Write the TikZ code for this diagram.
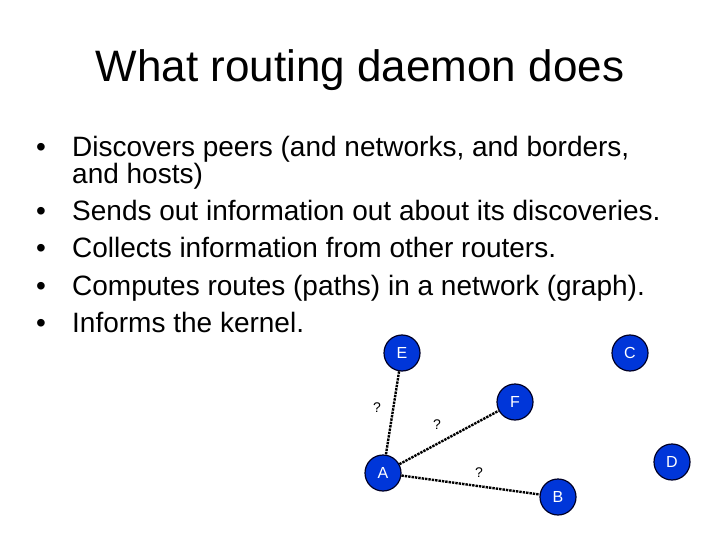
\documentclass[tikz,border=0pt]{standalone}
\usepackage{fontspec}
\setmainfont{Liberation Sans}
\begin{document}
\begin{tikzpicture}[x=1pt,y=-1pt,
  vtx/.style={circle,draw=black!85!blue,line width=1.2pt,fill=blue!75!cyan!85!black,minimum size=36pt,inner sep=0pt,text=white,font=\fontsize{16}{16}\selectfont},
  q/.style={font=\fontsize{14}{14}\selectfont},
  lnk/.style={densely dotted,line width=2.4pt},
  bl/.style={anchor=base west,inner sep=0pt,font=\fontsize{28}{28}\selectfont}]
\useasboundingbox (0,0) rectangle (720,540);
\node[font=\fontsize{44}{44}\selectfont] (title) at (360,70) {What routing daemon does};
\foreach \y/\t [count=\i] in {157/{Discovers peers (and networks, and borders,},221/{Sends out information out about its discoveries.},258/{Collects information from other routers.},295/{Computes routes (paths) in a network (graph).},332/{Informs the kernel.}}{
  \node[bl] (b\i) at (72,\y) {\t};
}
\foreach \y in {157,221,258,295,332}{\node[bl] at (36,\y) {•};}
\node[bl] (b0) at (72,184) {and hosts)};
\node[vtx] (E) at (402,353) {E};
\node[vtx] (C) at (630,353) {C};
\node[vtx] (F) at (515,402) {F};
\node[vtx] (D) at (672,462) {D};
\node[vtx] (A) at (383,473) {A};
\node[vtx] (B) at (558,497) {B};
\draw[lnk] (E) -- (A);
\draw[lnk] (A) -- (F);
\draw[lnk] (A) -- (B);
\node[q] (q1) at (377,408) {?};
\node[q] (q2) at (437,425) {?};
\node[q] (q3) at (479,473) {?};
\end{tikzpicture}
\end{document}
